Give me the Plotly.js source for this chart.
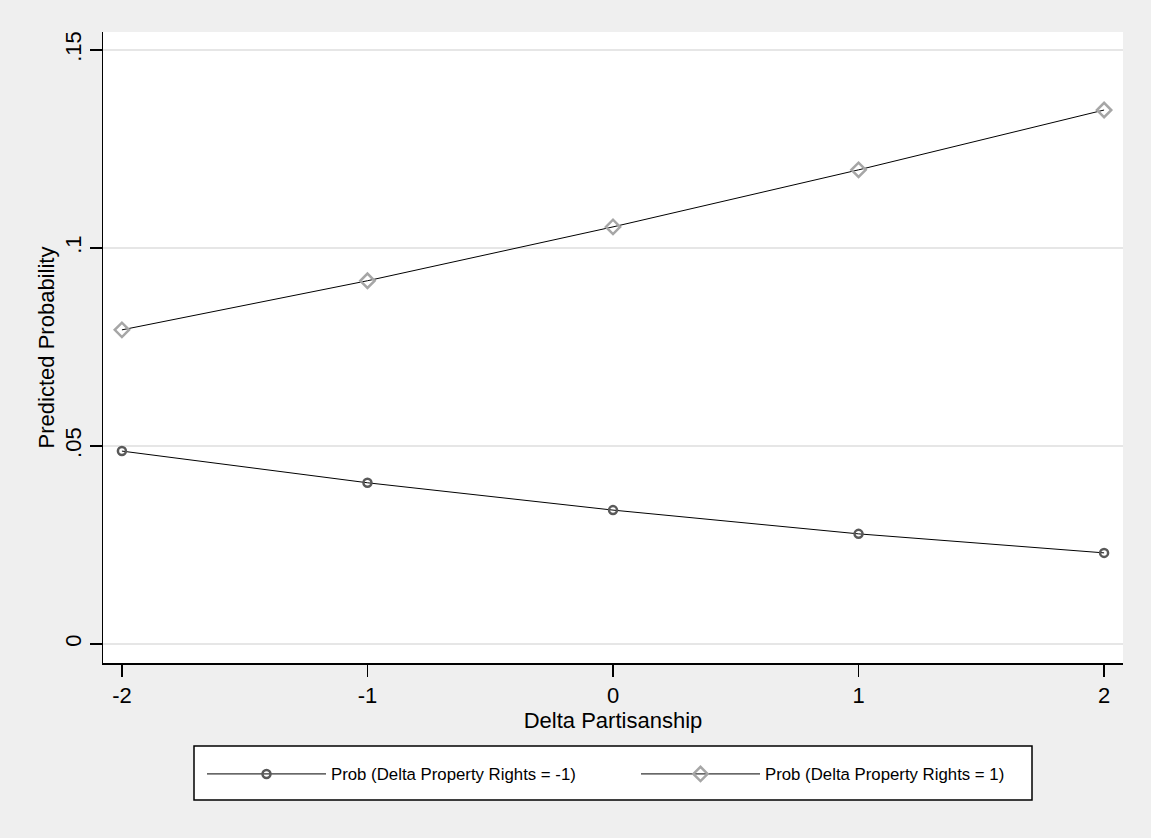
<!DOCTYPE html>
<html>
<head>
<meta charset="utf-8">
<script src="https://cdn.plot.ly/plotly-3.0.1.min.js"></script>
<style>html,body{margin:0;padding:0;background:#efefef;}#chart{width:1151px;height:838px;}</style>
</head>
<body>
<div id="chart"></div>
<script>
var deltaPartisanship = [-2, -1, 0, 1, 2];
var probRightsNeg1 = [0.0487, 0.0407, 0.0338, 0.0278, 0.0230];
var probRightsPos1 = [0.0793, 0.0917, 0.1053, 0.1197, 0.1348];
var yTickVals = [0, 0.05, 0.1, 0.15];
var yTickText = ["0", ".05", ".1", ".15"];
var xTickVals = [-2, -1, 0, 1, 2];
var xTickText = ["-2", "-1", "0", "1", "2"];
var seriesNames = ["Prob (Delta Property Rights = -1)", "Prob (Delta Property Rights = 1)"];

var traces = [
  {
    x: deltaPartisanship, y: probRightsNeg1, name: seriesNames[0],
    type: "scatter", mode: "lines+markers",
    line: {color: "#000000", width: 1},
    marker: {symbol: "circle-open", size: 8, color: "#595959", line: {width: 2.5, color: "#595959"}}
  },
  {
    x: deltaPartisanship, y: probRightsPos1, name: seriesNames[1],
    type: "scatter", mode: "lines+markers",
    line: {color: "#000000", width: 1},
    marker: {symbol: "diamond-open", size: 11, color: "#a6a6a6", line: {width: 2.5, color: "#a6a6a6"}}
  }
];

var W = 1020, H = 631;
var layout = {
  width: 1151, height: 838,
  paper_bgcolor: "#efefef", plot_bgcolor: "#ffffff",
  margin: {l: 103, r: 28, t: 32, b: 175},
  font: {family: "Liberation Sans, Arial, sans-serif", color: "#000000"},
  showlegend: true,
  xaxis: {
    range: [-2.077, 2.077],
    tickvals: xTickVals, ticktext: xTickText,
    ticks: "outside", ticklen: 12, tickwidth: 1.5, tickcolor: "#000",
    showline: true, linecolor: "#000", linewidth: 1.5,
    showgrid: false, zeroline: false,
    tickfont: {size: 22},
    title: {text: "Delta Partisanship", font: {size: 22}, standoff: 0}
  },
  yaxis: {
    range: [-0.0048, 0.1545],
    tickvals: yTickVals, ticktext: yTickText,
    tickangle: -90,
    ticks: "outside", ticklen: 12, tickwidth: 1.5, tickcolor: "#000",
    showline: true, linecolor: "#000", linewidth: 1.5,
    showgrid: true, gridcolor: "#e6e6e6", gridwidth: 2.5,
    zeroline: false,
    tickfont: {size: 22},
    title: {text: "Predicted Probability", font: {size: 22}, standoff: 0}
  },
  legend: {
    orientation: "h",
    x: (202 - 103) / W, xanchor: "left",
    y: (663 - 774) / H, yanchor: "middle",
    bgcolor: "rgba(0,0,0,0)", borderwidth: 0,
    itemwidth: 119,
    entrywidth: 300,
    font: {size: 16.8},
    traceorder: "normal"
  },
  shapes: [
    {type: "rect", xref: "paper", yref: "paper",
     x0: (194 - 103) / W, x1: (1032 - 103) / W,
     y0: (663 - 800) / H, y1: (663 - 746) / H,
     line: {color: "#000", width: 1.5}, fillcolor: "#ffffff", layer: "below"}
  ]
};

Plotly.newPlot("chart", traces, layout, {displayModeBar: false, staticPlot: true});
</script>
</body>
</html>
